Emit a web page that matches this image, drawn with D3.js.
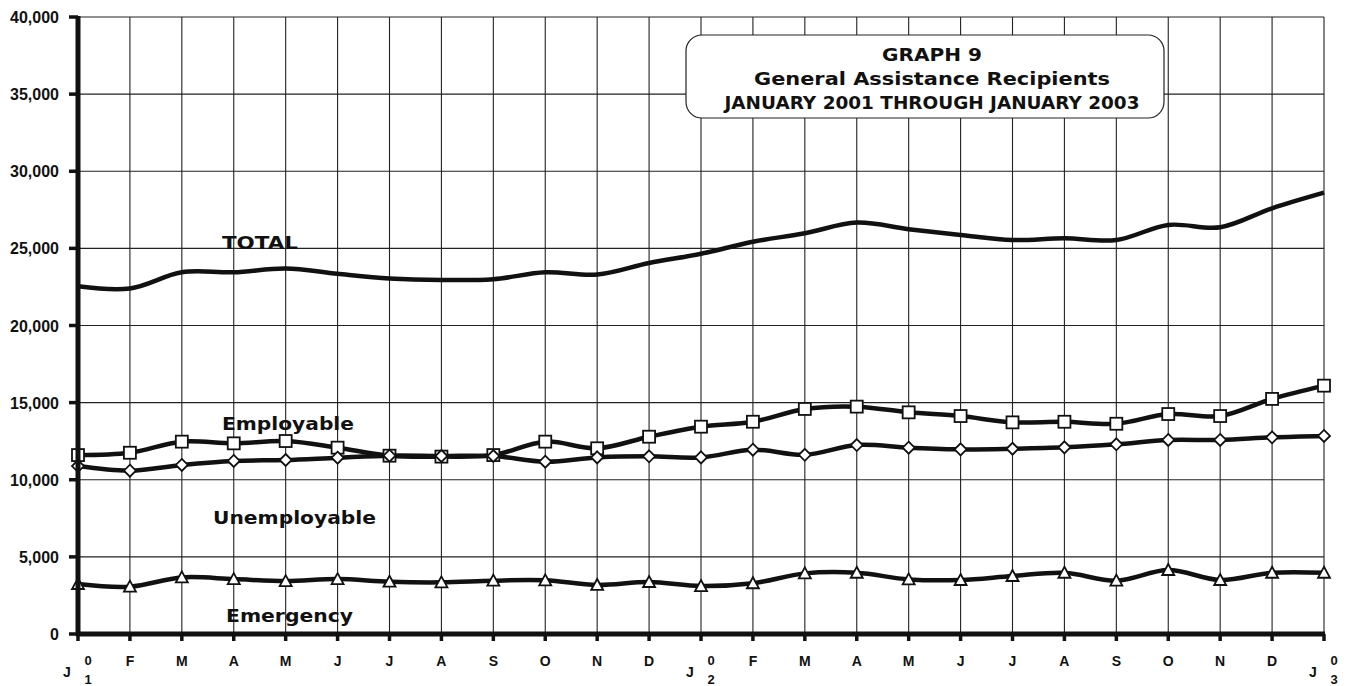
<!DOCTYPE html>
<html>
<head>
<meta charset="utf-8">
<script src="https://cdn.jsdelivr.net/npm/d3@7"></script>
<style>
  body { margin: 0; background: #fff; }
  svg { display: block; }
  text { font-family: "Liberation Sans", Arial, sans-serif; font-weight: bold; fill: #111; }
  text.heavy { font-family: "DejaVu Sans", sans-serif; font-weight: bold; }
</style>
</head>
<body>
<svg id="chart" width="1351" height="686"></svg>
<script>
// month ticks, J01 .. J03
const months = ["J","F","M","A","M","J","J","A","S","O","N","D",
                "J","F","M","A","M","J","J","A","S","O","N","D","J"];
const yearDigits = { 0: "1", 12: "2", 24: "3" };
const yTicks = [0, 5000, 10000, 15000, 20000, 25000, 30000, 35000, 40000];

// values
const total = [22550, 22400, 23450, 23450, 23700, 23350, 23050, 22950, 23000, 23450, 23300, 24050,
               24650, 25430, 25980, 26670, 26240, 25870, 25540, 25650, 25540, 26520, 26370, 27600, 28610];
const employable = [11600, 11750, 12470, 12360, 12510, 12080, 11560, 11500, 11600, 12470, 12040, 12790,
                    13440, 13760, 14590, 14740, 14370, 14130, 13720, 13760, 13630, 14260, 14130, 15240, 16100];
const unemployable = [10890, 10590, 10960, 11220, 11280, 11430, 11560, 11540, 11540, 11170, 11450, 11520,
                      11450, 11950, 11620, 12250, 12080, 11970, 12010, 12100, 12300, 12580, 12580, 12750, 12840];
const emergency = [3240, 3070, 3670, 3560, 3430, 3560, 3390, 3350, 3460, 3480, 3180, 3370,
                   3110, 3290, 3930, 3970, 3540, 3500, 3760, 3970, 3460, 4150, 3500, 3970, 3970];

const svg = d3.select("#chart");
const x = d3.scaleLinear().domain([0, 24]).range([78, 1324]);
const y = d3.scaleLinear().domain([0, 40000]).range([634, 17]);

// grid
const grid = svg.append("g").attr("stroke", "#222").attr("stroke-width", 1.1);
grid.selectAll("line.v").data(d3.range(1, 25)).enter().append("line")
  .attr("x1", d => x(d)).attr("x2", d => x(d))
  .attr("y1", y(40000)).attr("y2", y(0));
grid.selectAll("line.h").data(yTicks.slice(1)).enter().append("line")
  .attr("x1", x(0)).attr("x2", x(24))
  .attr("y1", d => y(d)).attr("y2", d => y(d));

// title box
const box = svg.append("g");
box.append("rect")
  .attr("x", 686).attr("y", 35).attr("width", 478).attr("height", 83)
  .attr("rx", 16).attr("ry", 16)
  .attr("fill", "#fff").attr("stroke", "#222").attr("stroke-width", 1.2);
const titles = [
  { t: "GRAPH 9", y: 61, w: 100 },
  { t: "General Assistance Recipients", y: 85, w: 356 },
  { t: "JANUARY 2001 THROUGH JANUARY 2003", y: 109, w: 415 }
];

// lines
const line = d3.line()
  .x((d, i) => x(i))
  .y(d => y(d))
  .curve(d3.curveCatmullRom.alpha(0.5));

[total, employable, unemployable, emergency].forEach(s => {
  svg.append("path")
    .attr("d", line(s))
    .attr("fill", "none")
    .attr("stroke", "#111")
    .attr("stroke-width", 4.5)
    .attr("stroke-linejoin", "round");
});

// markers
const mk = svg.append("g").attr("fill", "#fff").attr("stroke", "#111").attr("stroke-width", 1.8);
mk.selectAll("rect.sq").data(employable).enter().append("rect")
  .attr("x", (d, i) => x(i) - 6).attr("y", d => y(d) - 6)
  .attr("width", 12).attr("height", 12);
mk.selectAll("path.dia").data(unemployable).enter().append("path")
  .attr("d", (d, i) => {
    const cx = x(i), cy = y(d), r = 6;
    return `M${cx},${cy - r}L${cx + r},${cy}L${cx},${cy + r}L${cx - r},${cy}Z`;
  });
mk.selectAll("path.tri").data(emergency).enter().append("path")
  .attr("d", (d, i) => {
    const cx = x(i), cy = y(d);
    return `M${cx},${cy - 6}L${cx + 6},${cy + 5}L${cx - 6},${cy + 5}Z`;
  });

// axes (thick)
svg.append("line")
  .attr("x1", x(0)).attr("x2", x(0)).attr("y1", y(40000) - 1).attr("y2", y(0) + 2)
  .attr("stroke", "#111").attr("stroke-width", 5);
svg.append("line")
  .attr("x1", x(0) - 2).attr("x2", x(24) + 1).attr("y1", y(0)).attr("y2", y(0))
  .attr("stroke", "#111").attr("stroke-width", 5);

// y ticks and labels
svg.selectAll("line.yt").data(yTicks).enter().append("line")
  .attr("x1", 69).attr("x2", x(0)).attr("y1", d => y(d)).attr("y2", d => y(d))
  .attr("stroke", "#111").attr("stroke-width", 3.5);
svg.selectAll("text.yl").data(yTicks).enter().append("text")
  .attr("x", 59).attr("y", d => y(d) + 6)
  .attr("text-anchor", "end").attr("font-size", 16)
  .text(d => d3.format(",")(d));

// x ticks and labels
svg.selectAll("line.xt").data(months).enter().append("line")
  .attr("x1", (d, i) => x(i)).attr("x2", (d, i) => x(i))
  .attr("y1", y(0)).attr("y2", y(0) + 7)
  .attr("stroke", "#111").attr("stroke-width", 3.5);
months.forEach((m, i) => {
  if (yearDigits[i]) {
    svg.append("text").attr("x", x(i) - 11).attr("y", 677).attr("text-anchor", "middle")
      .attr("font-size", 14).text(m);
    svg.append("text").attr("x", x(i) + 10).attr("y", 665).attr("text-anchor", "middle")
      .attr("font-size", 13).text("0");
    svg.append("text").attr("x", x(i) + 10).attr("y", 684).attr("text-anchor", "middle")
      .attr("font-size", 13).text(yearDigits[i]);
  } else {
    svg.append("text").attr("x", x(i)).attr("y", 666).attr("text-anchor", "middle")
      .attr("font-size", 14).text(m);
  }
});

// title text
titles.forEach(t => {
  box.append("text").attr("class", "heavy").attr("x", 932).attr("y", t.y)
    .attr("text-anchor", "middle").attr("font-size", 17)
    .attr("textLength", t.w).attr("lengthAdjust", "spacingAndGlyphs")
    .text(t.t);
});

// series labels
const labels = [
  { t: "TOTAL", x: 222, y: 249, w: 76 },
  { t: "Employable", x: 222, y: 430, w: 132 },
  { t: "Unemployable", x: 213, y: 524, w: 163 },
  { t: "Emergency", x: 226, y: 622, w: 127 }
];
labels.forEach(l => {
  svg.append("text").attr("class", "heavy").attr("x", l.x).attr("y", l.y)
    .attr("font-size", 18)
    .attr("textLength", l.w).attr("lengthAdjust", "spacingAndGlyphs")
    .text(l.t);
});
</script>
</body>
</html>
